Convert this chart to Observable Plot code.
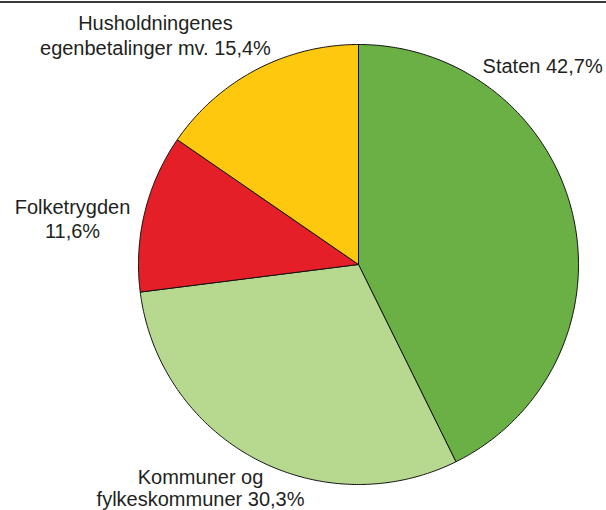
<!DOCTYPE html>
<html>
<head>
<meta charset="utf-8">
<script src="https://cdn.jsdelivr.net/npm/d3@7"></script>
<script src="https://cdn.jsdelivr.net/npm/@observablehq/plot@0.6"></script>
<style>
  html, body { margin: 0; padding: 0; background: #fff; }
  #wrap { position: relative; width: 606px; height: 510px; }
  #topline { position: absolute; left: 0; top: 1px; width: 606px; height: 1.5px; background: #3a3a3a; }
</style>
</head>
<body>
<div id="wrap"><div id="topline"></div></div>
<script>
// Data (clockwise from 12 o'clock)
const categories = ["Staten", "Kommuner og fylkeskommuner", "Folketrygden", "Husholdningenes egenbetalinger mv."];
const shares = [42.7, 30.3, 11.6, 15.4];
const labelNames = ["Staten ", "Kommuner og\nfylkeskommuner ", "Folketrygden\n", "Husholdningenes\negenbetalinger mv. "];
const colors = ["#6ab045", "#b6d88f", "#e51f27", "#fdc80e"];

// Label anchors (in unit-circle coordinates), alignment and line spacing
const labelLayout = [
  {x: 0.564, y: 0.906, anchor: "start", lh: 1.25},
  {x: -0.718, y: -1.0155, anchor: "middle", lh: 1.1},
  {x: -1.30, y: 0.211, anchor: "middle", lh: 1.2},
  {x: -0.923, y: 1.045, anchor: "middle", lh: 1.25}
];

const fmt = v => v.toFixed(1).replace(".", ",") + "%";

const pie = d3.pie().sort(null).value(d => d.value)
  .startAngle(0).endAngle(2 * Math.PI);
const arcs = pie(categories.map((c, i) => ({name: c, value: shares[i]})));

// Build slice outlines on the unit circle (angle clockwise from top)
const slicePts = [];
arcs.forEach(a => {
  const n = Math.max(2, Math.ceil((a.endAngle - a.startAngle) / 0.01));
  slicePts.push({name: a.data.name, x: 0, y: 0});
  for (let k = 0; k <= n; k++) {
    const t = a.startAngle + (a.endAngle - a.startAngle) * k / n;
    slicePts.push({name: a.data.name, x: Math.sin(t), y: Math.cos(t)});
  }
  slicePts.push({name: a.data.name, x: 0, y: 0});
});

const labels = categories.map((c, i) => ({
  text: labelNames[i] + fmt(shares[i]),
  ...labelLayout[i]
}));

const chart = Plot.plot({
  width: 606,
  height: 510,
  marginLeft: 138,
  marginRight: 28,
  marginTop: 44,
  marginBottom: 26,
  x: {domain: [-1, 1], axis: null},
  y: {domain: [-1, 1], axis: null},
  color: {domain: categories, range: colors},
  style: {fontFamily: "'Liberation Sans', Arial, sans-serif", background: "transparent", overflow: "visible"},
  marks: [
    Plot.line(slicePts, {x: "x", y: "y", z: "name", fill: "name", stroke: "#111", strokeWidth: 1, strokeLinejoin: "round"}),
    ...labels.map(d => Plot.text([d], {
      x: "x", y: "y", text: "text",
      textAnchor: d.anchor, lineAnchor: "middle", lineHeight: d.lh,
      fontSize: 20, fill: "#231f20"
    }))
  ]
});
chart.style.position = "absolute";
chart.style.left = "0";
chart.style.top = "0";
document.getElementById("wrap").appendChild(chart);
document.getElementById("wrap").appendChild(document.getElementById("topline"));
</script>
</body>
</html>
